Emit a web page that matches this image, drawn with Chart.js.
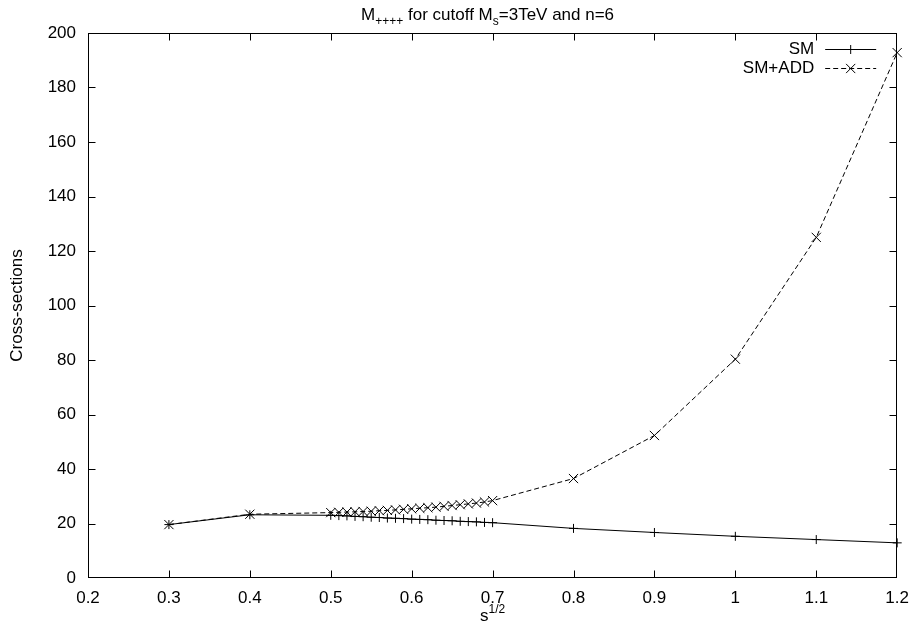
<!DOCTYPE html>
<html>
<head>
<meta charset="utf-8">
<script src="https://cdn.jsdelivr.net/npm/chart.js@4.4.1/dist/chart.umd.min.js"></script>
<style>
  html, body { margin: 0; padding: 0; background: #fff; }
</style>
</head>
<body>
<canvas id="chart" width="919" height="625"></canvas>
<script>
// sqrt(s) sample points
const xValues = [
  0.3, 0.4,
  0.5, 0.51, 0.52, 0.53, 0.54, 0.55, 0.56, 0.57, 0.58, 0.59,
  0.6, 0.61, 0.62, 0.63, 0.64, 0.65, 0.66, 0.67, 0.68, 0.69, 0.7,
  0.8, 0.9, 1.0, 1.1, 1.2
];
const smValues = [
  19.6, 23.2,
  23.0, 22.9, 22.8, 22.6, 22.5, 22.3, 22.2, 22.0, 21.9, 21.8,
  21.6, 21.5, 21.4, 21.2, 21.1, 21.0, 20.8, 20.7, 20.6, 20.4, 20.3,
  18.2, 16.7, 15.3, 14.1, 12.9
];
const addValues = [
  19.6, 23.4,
  24.0, 24.1, 24.2, 24.3, 24.4, 24.5, 24.7, 24.8, 25.0, 25.2,
  25.4, 25.6, 25.8, 26.0, 26.3, 26.6, 26.9, 27.2, 27.5, 27.9, 28.4,
  36.5, 52.3, 80.3, 125.0, 192.8
];
const seriesLabels = ["SM", "SM+ADD"];
const xRange = [0.2, 1.2, 0.1];
const yRange = [0, 200, 20];

const FONT = "'Liberation Sans', Arial, Helvetica, sans-serif";
const SIZE = 17;

const toPoints = (ys) => xValues.map((x, i) => ({ x, y: ys[i] }));

// text with sub/superscripts, drawn centred on cx
const drawRich = (ctx, parts, cx, cy) => {
  const small = Math.round(SIZE * 0.7);
  let total = 0;
  parts.forEach((p) => {
    ctx.font = `${p.sub || p.sup ? small : SIZE}px ${FONT}`;
    p.w = ctx.measureText(p.t).width;
    total += p.w;
  });
  let x = cx - total / 2;
  parts.forEach((p) => {
    ctx.font = `${p.sub || p.sup ? small : SIZE}px ${FONT}`;
    const dy = p.sub ? 5 : p.sup ? -8 : 0;
    ctx.fillText(p.t, x, cy + dy);
    x += p.w;
  });
};

const gnuFrame = {
  id: "gnuFrame",
  beforeDatasetsDraw(chart) {
    const { ctx, chartArea: a, scales: { x, y } } = chart;
    const L = Math.round(a.left) + 0.5, R = Math.round(a.right) - 0.5;
    const T = Math.round(a.top) + 0.5, B = Math.round(a.bottom) - 0.5;
    const len = 7;
    ctx.save();
    ctx.strokeStyle = "#000";
    ctx.lineWidth = 1;
    ctx.beginPath();
    x.ticks.forEach((t) => {
      const px = Math.round(x.getPixelForValue(t.value)) + 0.5;
      if (px <= L + 1 || px >= R - 1) return;
      ctx.moveTo(px, B); ctx.lineTo(px, B - len);
      ctx.moveTo(px, T); ctx.lineTo(px, T + len);
    });
    y.ticks.forEach((t) => {
      const py = Math.round(y.getPixelForValue(t.value)) + 0.5;
      if (py <= T + 1 || py >= B - 1) return;
      ctx.moveTo(L, py); ctx.lineTo(L + len, py);
      ctx.moveTo(R, py); ctx.lineTo(R - len, py);
    });
    ctx.stroke();
    ctx.strokeRect(L, T, R - L, B - T);
    ctx.restore();
  },
  afterDraw(chart) {
    const { ctx, chartArea: a } = chart;
    ctx.save();
    ctx.fillStyle = "#000";
    ctx.textBaseline = "alphabetic";
    ctx.textAlign = "left";
    drawRich(ctx, [
      { t: "M" }, { t: "++++", sub: true }, { t: " for cutoff M" },
      { t: "s", sub: true }, { t: "=3TeV and n=6" }
    ], (a.left + a.right) / 2 - 5, 20);
    drawRich(ctx, [{ t: "s" }, { t: "1/2", sup: true }], (a.left + a.right) / 2, 621);

    ctx.translate(17, (a.top + a.bottom) / 2);
    ctx.rotate(-Math.PI / 2);
    ctx.textAlign = "center";
    ctx.textBaseline = "middle";
    ctx.font = `${SIZE}px ${FONT}`;
    ctx.fillText("Cross-sections", 0, 0);
    ctx.restore();

    // key, top right inside the frame
    ctx.save();
    ctx.font = `${SIZE}px ${FONT}`;
    ctx.textAlign = "right";
    ctx.textBaseline = "middle";
    chart.data.datasets.forEach((ds, i) => {
      const cy = 49 + i * 19;
      const x0 = a.right - 72, x1 = a.right - 21;
      ctx.fillStyle = "#000";
      ctx.fillText(ds.label, a.right - 83, cy);
      ctx.strokeStyle = ds.borderColor;
      ctx.lineWidth = 1;
      ctx.setLineDash(ds.borderDash || []);
      ctx.beginPath();
      ctx.moveTo(x0, cy + 0.5);
      ctx.lineTo(x1, cy + 0.5);
      ctx.stroke();
      ctx.setLineDash([]);
      Chart.helpers.drawPoint(ctx, {
        pointStyle: ds.pointStyle, radius: ds.pointRadius, borderWidth: 1
      }, (x0 + x1) / 2, cy + 0.5);
    });
    ctx.restore();
  }
};

const axisOpts = (range, pad) => ({
  type: "linear",
  min: range[0],
  max: range[1],
  grid: { display: false, drawTicks: false },
  border: { display: false },
  ticks: {
    stepSize: range[2],
    color: "#000",
    padding: pad,
    font: { family: FONT, size: SIZE },
    callback: (v) => String(Number(v.toFixed(1)))
  }
});

const xAxis = axisOpts(xRange, 10);
xAxis.afterFit = (s) => { s.height = 47; };
const yAxis = axisOpts(yRange, 12);
yAxis.afterFit = (s) => { s.width = 88; };

new Chart(document.getElementById("chart"), {
  type: "line",
  data: {
    datasets: [
      {
        label: seriesLabels[0],
        data: toPoints(smValues),
        borderColor: "#000",
        backgroundColor: "#000",
        borderWidth: 1,
        pointStyle: "cross",
        pointRadius: 4.5,
        pointBorderWidth: 1,
        pointBorderColor: "#000",
        tension: 0,
        clip: 10
      },
      {
        label: seriesLabels[1],
        data: toPoints(addValues),
        borderColor: "#000",
        backgroundColor: "#000",
        borderWidth: 1,
        borderDash: [5, 3],
        pointStyle: "crossRot",
        pointRadius: 6.5,
        pointBorderWidth: 1,
        pointBorderColor: "#000",
        tension: 0,
        clip: 10
      }
    ]
  },
  options: {
    responsive: false,
    devicePixelRatio: 1,
    animation: false,
    layout: { padding: { top: 33, right: 16, left: 0, bottom: 0 } },
    scales: { x: xAxis, y: yAxis },
    plugins: {
      legend: { display: false },
      title: { display: false },
      tooltip: { enabled: false }
    }
  },
  plugins: [gnuFrame]
});
</script>
</body>
</html>
